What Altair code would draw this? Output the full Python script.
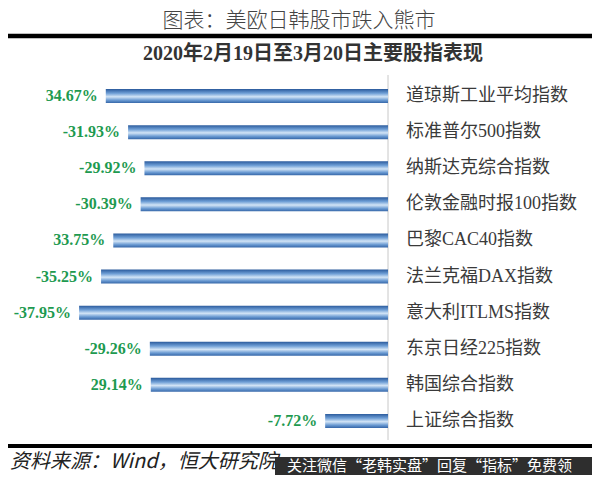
import altair as alt
import pandas as pd

categories = ["道琼斯工业平均指数", "标准普尔500指数", "纳斯达克综合指数", "伦敦金融时报100指数",
              "巴黎CAC40指数", "法兰克福DAX指数", "意大利ITLMS指数", "东京日经225指数",
              "韩国综合指数", "上证综合指数"]
values = [34.67, -31.93, -29.92, -30.39, 33.75, -35.25, -37.95, -29.26, 29.14, -7.72]
labels = ["34.67%", "-31.93%", "-29.92%", "-30.39%", "33.75%", "-35.25%", "-37.95%",
          "-29.26%", "29.14%", "-7.72%"]

title_text = "图表：美欧日韩股市跌入熊市"
subtitle_text = "2020年2月19日至3月20日主要股指表现"
source_text = "资料来源：Wind，恒大研究院"
watermark_text = "关注微信“老韩实盘”回复“指标”免费领"

df = pd.DataFrame({
    "cat": categories,
    "val": values,
    "mag": [-abs(v) for v in values],
    "label": labels,
})
one = pd.DataFrame({"a": [0]})

W, H = 584, 467
CJK = "Noto Sans CJK SC"
SERIF = "Liberation Serif, Noto Sans CJK SC"

xscale = alt.Scale(domain=[-40, 0], range=[380 - 40 * 8.14, 380])
yscale = alt.Scale(domain=categories, range=[70, 431], paddingInner=0, paddingOuter=0)

grad = alt.LinearGradient(
    gradient="linear", x1=0, x2=0, y1=0, y2=1,
    stops=[
        alt.GradientStop(color="#2a5a9c", offset=0),
        alt.GradientStop(color="#6f9fd6", offset=0.3),
        alt.GradientStop(color="#d2e4f6", offset=0.55),
        alt.GradientStop(color="#6a9ad2", offset=0.8),
        alt.GradientStop(color="#3566a8", offset=1),
    ],
)

base = alt.Chart(df)

bars = base.mark_bar(size=14, color=grad).encode(
    x=alt.X("mag:Q", scale=xscale, axis=None),
    x2=alt.datum(0),
    y=alt.Y("cat:N", scale=yscale, axis=None, sort=None),
)

val_text = base.mark_text(align="right", baseline="middle", dx=-8, font="Liberation Serif",
                          fontWeight="bold", fontSize=16, color="#1e9a50").encode(
    x=alt.X("mag:Q", scale=xscale, axis=None),
    y=alt.Y("cat:N", scale=yscale, axis=None, sort=None),
    text="label:N",
)

cat_text = base.mark_text(align="left", baseline="middle", dx=18, font=SERIF,
                          fontSize=18, color="#3a3a3a").encode(
    x=alt.datum(0),
    y=alt.Y("cat:N", scale=yscale, axis=None, sort=None),
    text="cat:N",
)

zero_line = alt.Chart(one).mark_rule(color="#c8c8c8", strokeWidth=1).encode(
    x=alt.value(380), y=alt.value(67), y2=alt.value(432))

top_line = alt.Chart(one).mark_rule(color="#000000", strokeWidth=4.5).encode(
    x=alt.value(0), x2=alt.value(584), y=alt.value(28))
bottom_line = alt.Chart(one).mark_rule(color="#000000", strokeWidth=4).encode(
    x=alt.value(0), x2=alt.value(584), y=alt.value(438))

title = alt.Chart(one).mark_text(align="center", baseline="top", font=CJK, fontSize=21,
                                 fontWeight=300, color="#444444").encode(
    x=alt.value(291), y=alt.value(2), text=alt.value(title_text))

subtitle = alt.Chart(one).mark_text(align="center", baseline="middle", font=SERIF, fontSize=20,
                                    fontWeight="bold", color="#333333").encode(
    x=alt.value(305), y=alt.value(46), text=alt.value(subtitle_text))

source = alt.Chart(one).mark_text(align="left", baseline="middle", font=CJK, fontSize=20,
                                  fontStyle="italic", color="#222222").encode(
    x=alt.value(2), y=alt.value(454), text=alt.value(source_text))

wm_box = alt.Chart(one).mark_rect(color="#2e2e2e").encode(
    x=alt.value(267), x2=alt.value(584), y=alt.value(449), y2=alt.value(467))
wm_text = alt.Chart(one).mark_text(align="left", baseline="middle", font=CJK, fontSize=15,
                                   color="#ffffff").encode(
    x=alt.value(279), y=alt.value(458), text=alt.value(watermark_text))

chart = alt.layer(
    zero_line, bars, val_text, cat_text, top_line, bottom_line,
    title, subtitle, source, wm_box, wm_text,
).properties(
    width=W, height=H, padding=0, background="#ffffff",
    autosize=alt.AutoSizeParams(type="none"),
).configure_view(stroke=None)

chart.save("out.html", embed_options={"renderer": "svg", "actions": False})
